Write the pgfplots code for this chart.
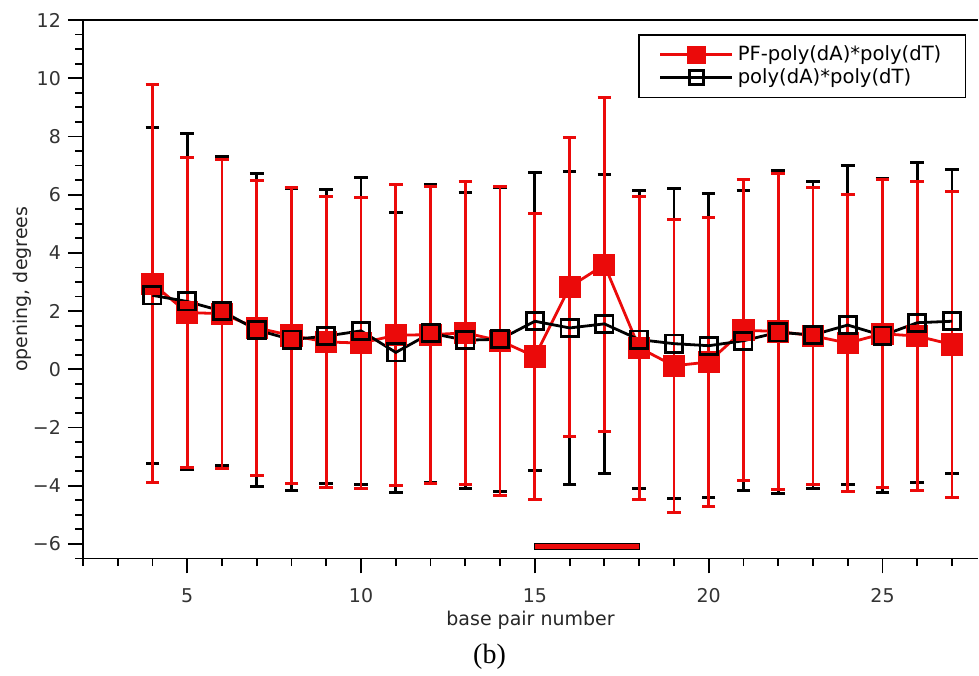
\documentclass[border=0pt]{standalone}
\usepackage{fontspec}
\setmainfont{DejaVu Sans}
\newfontfamily\capfont{Liberation Serif}
\usepackage{pgfplots}
\usepackage{pgfplotstable}
\pgfplotsset{compat=1.18}
\definecolor{pfred}{RGB}{235,10,10}

% x = base pair, y = mean opening, err = half width of the bar
\pgfplotstableread{
x y err
4 2.94 6.84
5 1.95 5.34
6 1.91 5.31
7 1.42 5.07
8 1.16 5.08
9 0.94 4.99
10 0.90 5.01
11 1.17 5.17
12 1.19 5.10
13 1.25 5.20
14 0.98 5.30
15 0.44 4.92
16 2.83 5.14
17 3.59 5.73
18 0.74 5.20
19 0.12 5.03
20 0.25 4.98
21 1.34 5.17
22 1.30 5.44
23 1.15 5.11
24 0.90 5.10
25 1.22 5.29
26 1.14 5.32
27 0.85 5.25
}\pfdata

\pgfplotstableread{
x y err
4 2.54 5.77
5 2.33 5.78
6 2.00 5.30
7 1.35 5.37
8 1.02 5.20
9 1.14 5.05
10 1.32 5.27
11 0.58 4.82
12 1.24 5.12
13 1.00 5.09
14 1.03 5.23
15 1.65 5.12
16 1.42 5.38
17 1.56 5.14
18 1.02 5.12
19 0.88 5.33
20 0.81 5.22
21 0.98 5.15
22 1.27 5.55
23 1.18 5.28
24 1.52 5.47
25 1.16 5.39
26 1.60 5.50
27 1.65 5.22
}\polydata

\begin{document}
\begin{tikzpicture}
\begin{axis}[
    at={(0,0)}, anchor=south west,
    scale only axis,
    width=448pt, height=269.5pt,
    xmin=2, xmax=27.75,
    ymin=-6.5, ymax=12,
    axis x line*=bottom,
    axis y line*=left,
    axis line style={line width=0.9pt, black, -},
    every tick/.style={black, line width=0.9pt},
    tick align=outside,
    major tick length=7.5pt,
    minor tick length=3.8pt,
    xtick={5,10,15,20,25},
    minor xtick={2,...,27},
    ytick={-6,-4,...,12},
    yticklabels={−6,−4,−2,0,2,4,6,8,10,12},
    minor ytick={-6.5,-6,...,12},
    /pgf/number format/assume math mode=true,
    tick label style={font=\fontsize{9.5}{11}\selectfont, text=black!80},
    xticklabel style={yshift=-4pt},
    label style={font=\fontsize{9.5}{11}\selectfont, text=black!85},
    xlabel={base pair number},
    ylabel={opening, degrees},
    xlabel style={yshift=3pt},
    ylabel style={yshift=-6pt},
    clip=false,
    legend cell align=left,
    legend style={
        at={(0.9866,0.974)}, anchor=north east,
        draw=black, line width=0.8pt,
        font=\fontsize{9.8}{11.5}\selectfont,
        inner xsep=10pt, inner ysep=3.5pt,
        row sep=-1.5pt,
        /tikz/every even column/.append style={column sep=5pt},
    },
    legend image code/.code={
        \draw[mark repeat=2, mark phase=2, every mark/.append style={scale=0.82}]
            plot coordinates {(0pt,0pt) (18pt,0pt) (36pt,0pt)};
    },
]
% frame line along the top
\draw[line width=0.9pt, black] (rel axis cs:0,1) -- (rel axis cs:1,1);

% black error bars first, so the red ones lie over them
\addplot[forget plot, draw=none, mark=none,
    error bars/.cd, y dir=both, y explicit,
    error bar style={line width=1.4pt, draw=black},
    error mark options={rotate=90, mark size=3.4pt, line width=1.5pt, draw=black}]
    table[x=x, y=y, y error=err] {\polydata};

\addplot[pfred, line width=1.4pt, mark=square*, mark size=5.3pt,
    mark options={solid, fill=pfred, draw=pfred, line width=0.5pt},
    error bars/.cd, y dir=both, y explicit,
    error bar style={line width=1.4pt, pfred},
    error mark options={rotate=90, mark size=3.4pt, line width=1.5pt, pfred}]
    table[x=x, y=y, y error=err] {\pfdata};
\addlegendentry{PF-poly(dA)*poly(dT)}

\addplot[black, line width=1.4pt, mark=square, mark size=4.3pt,
    mark options={solid, line width=1.4pt}]
    table[x=x, y=y] {\polydata};
\addlegendentry{poly(dA)*poly(dT)}

% PF region marker bar
\addplot[forget plot, fill=pfred, draw=black, line width=0.6pt]
    coordinates {(15,-6.2) (18,-6.2) (18,-5.98) (15,-5.98)} -- cycle;
\end{axis}
\node at (203.5pt,-49pt) {\capfont\fontsize{14}{16}\selectfont (b)};
\path[use as bounding box] (-41.5pt,-57pt) rectangle (448pt,279.5pt);
\end{tikzpicture}
\end{document}
